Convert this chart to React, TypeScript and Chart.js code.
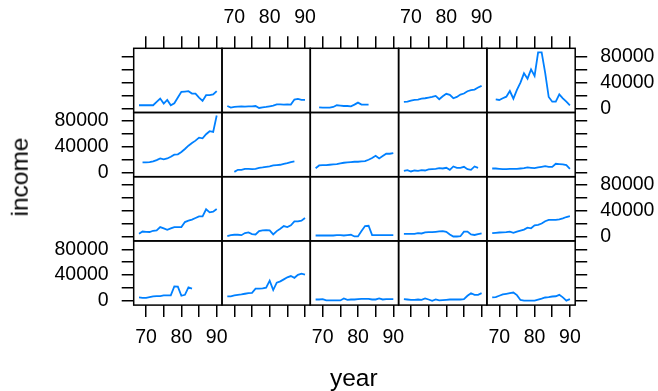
import React, { useEffect, useRef } from "react";
import { Chart, registerables } from "chart.js";

Chart.register(...registerables);

// ---------- data ----------
const years = [68, 69, 70, 71, 72, 73, 74, 75, 76, 77, 78, 79, 80, 81, 82, 83, 84, 85, 86, 87, 88, 89, 90];
const xTicks = [70, 75, 80, 85, 90];
const xTickLabels = [70, 80, 90];
const yTicks = [0, 20000, 40000, 60000, 80000];
const yTickLabels = [0, 40000, 80000];

// row 1 (top)
const r1c1 = [4700, 4700, 4700, 4700, 4700, 9900, 15100, 7300, 13000, 4700, 7800, 16700, 25500, 26000, 26600, 22900, 22900, 16700, 11500, 20300, 20300, 21400, 26600];
const r1c2 = [3600, 1000, 2100, 2600, 3100, 2600, 3100, 3100, 3600, 500, 1600, 2100, 3100, 4200, 6200, 6200, 5700, 6200, 5700, 13500, 14600, 13000, 13000];
const r1c3 = [null, 1600, 1000, 1000, 1000, 2100, 4700, 4200, 3600, 3600, 3100, 5700, 8800, 5700, 5700, 5700, null, null, null, null, null, null, null];
const r1c4 = [9900, 10400, 12000, 13000, 13500, 15000, 15600, 16600, 17700, 19200, 14000, 18700, 22400, 20800, 15600, 17700, 21300, 22900, 26500, 28100, 29100, 32200, 34800];
const r1c5 = [null, 13900, 12900, 15500, 18000, 26800, 14900, 28400, 39700, 54200, 45900, 60400, 50100, 86800, 86800, 55000, 17500, 10200, 10200, 21700, 15500, 10200, 4600];
// row 2
const r2c1 = [null, 15600, 15600, 16100, 17200, 19200, 21800, 20300, 21800, 24400, 27600, 28100, 31700, 36400, 41600, 45800, 49400, 54100, 53000, 59300, 64000, 62900, 88400];
const r2c2 = [null, null, 1000, 4200, 4200, 5700, 5700, 5200, 5700, 7300, 7800, 8800, 9400, 10900, 11400, 12000, 13500, 14600, 16100, 17200, null, null, null];
const r2c3 = [6700, 10900, 11400, 11400, 12000, 12500, 13000, 14000, 15100, 15600, 16100, 16700, 16700, 17200, 17700, 19800, 22400, 26000, 21800, 25500, 29100, 29100, 30200];
const r2c4 = [2600, 3600, 1600, 3100, 2600, 3600, 3100, 4700, 5200, 5700, 6800, 6200, 7300, 4200, 9400, 7300, 7300, 8800, 5200, 4200, 9400, 7300, null];
const r2c5 = [6200, 6200, 5700, 5200, 5200, 5700, 5700, 5700, 6200, 6800, 7800, 7300, 6800, 7800, 8800, 9900, 8800, 8800, 13500, 13000, 12500, 11400, 5700];
// row 3
const r3c1 = [4500, 8000, 7600, 7300, 9200, 9700, 14900, 12800, 10700, 12800, 14900, 14900, 14900, 22700, 24800, 26400, 29000, 31600, 31600, 42500, 37800, 38900, 43000];
const r3c2 = [900, 2400, 3000, 3000, 2400, 5600, 6600, 4000, 3500, 8700, 9700, 10200, 9700, 3500, 8700, 12300, 16500, 15000, 17600, 23800, 23800, 24800, 29000];
const r3c3 = [1900, 1900, 1900, 1900, 1900, 1900, 2400, 2400, 1900, 2400, 3000, 400, 400, 8700, 16500, 17000, 2400, 2400, 2400, 2400, 2400, 2400, 2400];
const r3c4 = [4500, 4500, 4500, 4500, 5600, 5000, 6600, 7100, 7100, 7600, 8200, 8700, 7600, 3500, 300, 300, 800, 7900, 7900, 3500, 2700, 4000, 5300];
const r3c5 = [5500, 6000, 6500, 6700, 7000, 7800, 6000, 8000, 9500, 11000, 14000, 13000, 17500, 18500, 20500, 24000, 26000, 26000, 26000, 27000, 28500, 30500, 32000];
// row 4 (bottom)
const r4c1 = [5400, 4800, 4800, 5900, 6900, 7400, 7400, 8500, 8500, 8500, 22500, 22000, 8000, 9500, 21000, 18900, null, null, null, null, null, null, null];
const r4c2 = [6900, 6900, 8500, 9500, 10000, 11100, 12100, 12600, 18900, 18900, 19400, 20400, 31400, 16800, 28200, 30300, 33400, 36600, 38500, 35800, 40500, 42300, 40800];
const r4c3 = [2200, 2200, 2800, 700, 700, 700, 700, 700, 3800, 1700, 2200, 2200, 2800, 3300, 3300, 3300, 2200, 2200, 3800, 2200, 2800, 2800, 2800];
const r4c4 = [2800, 2200, 1700, 1700, 2200, 1700, 3800, 2200, 200, 2200, 700, 1200, 1700, 2200, 2200, 2200, 2200, 2800, 8000, 12000, 9500, 9500, 12000];
const r4c5 = [5400, 5900, 8000, 10000, 11000, 12000, 13000, 9000, 1500, 500, 500, 500, 500, 2000, 3500, 5300, 5900, 6800, 7200, 9400, 5500, 500, 2800];

const panelRows = [
  [r1c1, r1c2, r1c3, r1c4, r1c5],
  [r2c1, r2c2, r2c3, r2c4, r2c5],
  [r3c1, r3c2, r3c3, r3c4, r3c5],
  [r4c1, r4c2, r4c3, r4c4, r4c5],
];

// ---------- layout ----------
const CW = 658;
const CH = 391;
const GRID_LEFT = 133.7;
const GRID_TOP = 48.3;
const PANEL_W = 88.3;
const PANEL_H = 64.2;
const X_MIN = 66.5;
const X_MAX = 91.5;
const Y_MIN = -6500;
const Y_MAX = 93000;
const TICK_LEN = 12;
const FONT = "'Liberation Sans', Arial, Helvetica, sans-serif";
const LINE_COLOR = "#0080ff";

const boxPlugin = {
  id: "panelBox",
  afterDraw(chart: any) {
    const { ctx, chartArea } = chart;
    ctx.save();
    ctx.strokeStyle = "#000";
    ctx.lineWidth = 1.5;
    ctx.strokeRect(chartArea.left, chartArea.top, chartArea.right - chartArea.left, chartArea.bottom - chartArea.top);
    ctx.restore();
  },
};

function Panel({ row, col }: { row: number; col: number }) {
  const ref = useRef<HTMLCanvasElement | null>(null);
  useEffect(() => {
    if (!ref.current) return;
    const values = panelRows[row][col];
    const left = GRID_LEFT + col * PANEL_W;
    const top = GRID_TOP + row * PANEL_H;
    const right = left + PANEL_W;
    const bottom = top + PANEL_H;
    const xPos = row === 0 ? "top" : row === 3 ? "bottom" : null;
    const yPos = col === 0 ? "left" : col === 4 ? "right" : null;
    const showX = (row === 0 && col % 2 === 1) || (row === 3 && col % 2 === 0);
    const showY = (col === 0 && row % 2 === 1) || (col === 4 && row % 2 === 0);
    // axis box thickness: whole space between panel and canvas edge (minus a hair)
    const xSize = xPos === "top" ? Math.floor(top) - 1 : xPos === "bottom" ? Math.floor(CH - bottom) - 1 : 0;
    const ySize = yPos === "left" ? Math.floor(left) - 1 : yPos === "right" ? Math.floor(CW - right) - 1 : 0;
    const padding = {
      left: left - (yPos === "left" ? ySize : 0),
      right: CW - right - (yPos === "right" ? ySize : 0),
      top: top - (xPos === "top" ? xSize : 0),
      bottom: CH - bottom - (xPos === "bottom" ? xSize : 0),
    };
    const points = years
      .map((x, i) => ({ x, y: values[i] }))
      .filter((p) => p.y !== null);

    const grid = {
      display: true,
      drawOnChartArea: false,
      drawTicks: true,
      tickLength: TICK_LEN,
      color: "#000",
      lineWidth: 1.5,
    };

    const chart = new Chart(ref.current, {
      type: "line",
      data: {
        datasets: [
          {
            data: points as any,
            borderColor: LINE_COLOR,
            borderWidth: 1.8,
            pointRadius: 0,
            fill: false,
            tension: 0,
          },
        ],
      },
      plugins: [boxPlugin],
      options: {
        animation: false,
        responsive: false,
        maintainAspectRatio: false,
        devicePixelRatio: 1,
        events: [],
        layout: { padding, autoPadding: false } as any,
        plugins: { legend: { display: false }, tooltip: { enabled: false } },
        scales: {
          x: {
            type: "linear",
            min: X_MIN,
            max: X_MAX,
            display: !!xPos,
            position: (xPos || "bottom") as any,
            afterBuildTicks: (s: any) => {
              s.ticks = xTicks.map((v) => ({ value: v }));
            },
            afterFit: (s: any) => {
              s.height = xSize;
            },
            grid,
            border: { display: false },
            ticks: {
              autoSkip: false,
              maxRotation: 0,
              minRotation: 0,
              padding: xPos === "top" ? 7 : 9,
              color: "#000",
              font: { family: FONT, size: 19.5 },
              callback: (v: any) => (showX && xTickLabels.includes(Number(v)) ? String(v) : ""),
            },
          },
          y: {
            type: "linear",
            min: Y_MIN,
            max: Y_MAX,
            display: !!yPos,
            position: (yPos || "left") as any,
            afterBuildTicks: (s: any) => {
              s.ticks = yTicks.map((v) => ({ value: v }));
            },
            afterFit: (s: any) => {
              s.width = ySize;
            },
            grid,
            border: { display: false },
            ticks: {
              autoSkip: false,
              padding: 13,
              color: "#000",
              font: { family: FONT, size: 19.5 },
              callback: (v: any) => (showY && yTickLabels.includes(Number(v)) ? String(v) : ""),
            },
          },
        },
      },
    });
    return () => chart.destroy();
  }, [row, col]);

  return (
    <canvas
      ref={ref}
      width={CW}
      height={CH}
      style={{ position: "absolute", left: 0, top: 0, width: CW, height: CH }}
    />
  );
}

export default function App() {
  const cells: React.ReactNode[] = [];
  for (let r = 0; r < 4; r++) {
    for (let c = 0; c < 5; c++) {
      cells.push(<Panel key={`${r}-${c}`} row={r} col={c} />);
    }
  }
  return (
    <div
      style={{
        position: "fixed",
        left: 0,
        top: 0,
        width: CW,
        height: CH,
        background: "#fff",
        overflow: "hidden",
        fontFamily: FONT,
      }}
    >
      {cells}
      <div
        style={{
          position: "absolute",
          left: 19.9,
          top: 176.7,
          transform: "translate(-50%, -50%) rotate(-90deg)",
          fontSize: 24.5,
          lineHeight: 1,
          whiteSpace: "nowrap",
          color: "#000",
        }}
      >
        income
      </div>
      <div
        style={{
          position: "absolute",
          left: 353.8,
          top: 365.9,
          transform: "translateX(-50%)",
          fontSize: 24.5,
          lineHeight: 1,
          whiteSpace: "nowrap",
          color: "#000",
        }}
      >
        year
      </div>
    </div>
  );
}
